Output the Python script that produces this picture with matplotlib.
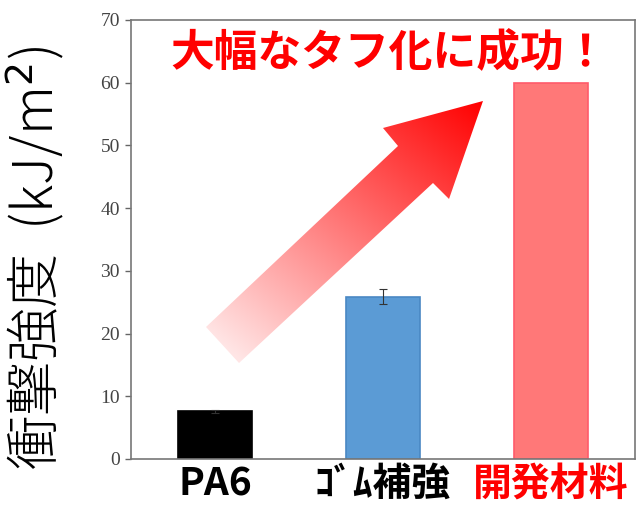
import numpy as np
import matplotlib
matplotlib.use("Agg")
import matplotlib.pyplot as plt
from matplotlib.patches import Polygon

plt.rcParams['font.family'] = ['Noto Sans CJK JP', 'DejaVu Sans']

# data
labels = ["PA6", "ｺﾞﾑ補強", "開発材料"]
values = [7.6, 25.9, 60.0]
errors = [0.2, 1.2, 0.0]
bar_colors = ["#000000", "#5b9bd5", "#ff7878"]
edge_colors = ["#000000", "#4a88c4", "#ff5a6a"]
label_colors = ["black", "black", "#ff0000"]
yticks = [0, 10, 20, 30, 40, 50, 60, 70]

fig = plt.figure(figsize=(6.41, 5.05), dpi=100)
ax = fig.add_axes([0.2044, 0.0911, 0.7862, 0.8693])

x = np.arange(len(labels))
ax.bar(x, values, width=0.435, color=bar_colors, edgecolor=edge_colors,
       linewidth=1.2, zorder=2)
ax.errorbar(x[:2], values[:2], yerr=errors[:2], fmt='none', ecolor='#333333',
            elinewidth=0.8, capsize=3, capthick=0.8, zorder=3)

ax.set_xlim(-0.5, 2.5)
ax.set_ylim(0, 70)
ax.set_yticks(yticks)
ax.set_yticklabels([str(t) for t in yticks], family='Liberation Serif',
                   fontsize=14, color='#444444')
ax.tick_params(axis='y', direction='out', length=4, width=1, color='#666666', pad=4)
ax.set_xticks(x)
ax.set_xticklabels(labels, fontsize=28, fontweight='bold')
for t, c in zip(ax.get_xticklabels(), label_colors):
    t.set_color(c)
ax.tick_params(axis='x', length=0, pad=4)
for s in ax.spines.values():
    s.set_color('#777777')
    s.set_linewidth(1.2)

ax.set_ylabel("衝撃強度  (kJ/m$^2$)", fontsize=39, fontweight='light')
ax.yaxis.set_label_coords(-0.128, 0.458)

ax.text(0.513, 0.925, "大幅なタフ化に成功！", transform=ax.transAxes,
        ha='center', va='center', fontsize=31.5, fontweight='bold', color='#ff0000')

# gradient arrow (axes fraction)
arrow_pts = np.array([
    [0.1488, 0.3007], [0.5298, 0.7130], [0.5000, 0.7540], [0.6984, 0.8155],
    [0.6310, 0.5923], [0.5992, 0.6287], [0.2143, 0.2187]])
poly = Polygon(arrow_pts, closed=True, transform=ax.transAxes,
               facecolor='none', edgecolor='none')
ax.add_patch(poly)
x0, y0 = arrow_pts.min(axis=0)
x1, y1 = arrow_pts.max(axis=0)
gx, gy = np.meshgrid(np.linspace(x0, x1, 300), np.linspace(y0, y1, 300))
start = np.array([0.18, 0.26])
end = np.array([0.6984, 0.8155])
d = end - start
t = ((gx - start[0]) * d[0] + (gy - start[1]) * d[1]) / (d @ d)
t = np.clip(t, 0, 1)
c0 = np.array([1.0, 0.9, 0.9])
c1 = np.array([1.0, 0.0, 0.0])
img = c0 + (c1 - c0) * t[..., None]
im = ax.imshow(img, extent=[x0, x1, y0, y1], origin='lower',
               transform=ax.transAxes, aspect='auto', zorder=4,
               interpolation='bilinear')
im.set_clip_path(poly)

fig.savefig("out.png", dpi=100)
